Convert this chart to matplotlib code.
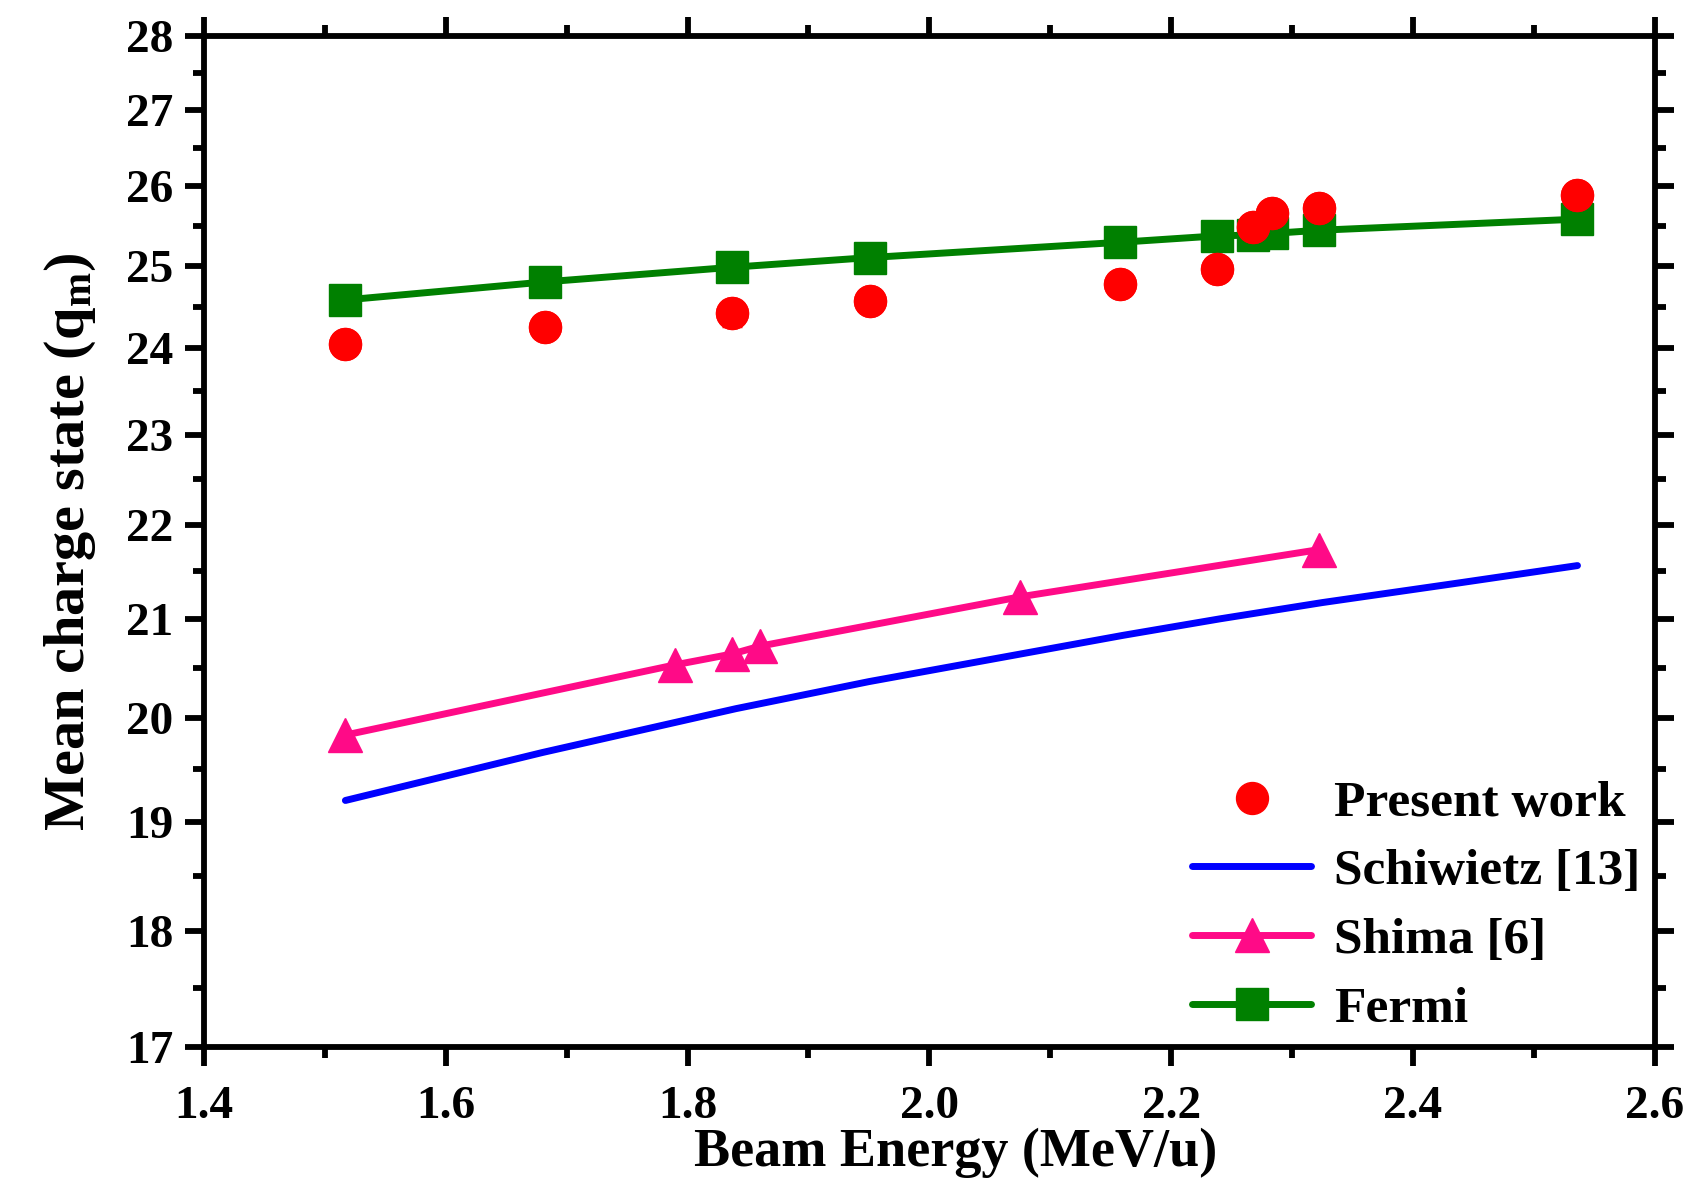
import matplotlib
matplotlib.use("Agg")
import matplotlib.pyplot as plt
from matplotlib.ticker import FixedLocator, FuncFormatter, NullFormatter, MultipleLocator

plt.rcParams['font.family'] = ['Liberation Serif', 'DejaVu Serif']
plt.rcParams['font.weight'] = 'bold'
plt.rcParams['mathtext.fontset'] = 'custom'
plt.rcParams['mathtext.rm'] = 'Liberation Serif:bold'
plt.rcParams['mathtext.it'] = 'Liberation Serif:bold'
plt.rcParams['mathtext.bf'] = 'Liberation Serif:bold'

# Present work (experimental)
pw_energy = [1.517, 1.682, 1.837, 1.951, 2.158, 2.238, 2.268, 2.283, 2.322, 2.536]
pw_q = [24.05, 24.25, 24.42, 24.57, 24.77, 24.96, 25.48, 25.66, 25.72, 25.89]
pw_err = [0.10, 0.08, 0.15, 0.08, 0.07, 0.07, 0.08, 0.08, 0.08, 0.12]

# Schiwietz [13]
sch_energy = [1.517, 1.68, 1.84, 1.95, 2.16, 2.24, 2.325, 2.44, 2.536]
sch_q = [19.20, 19.66, 20.09, 20.36, 20.83, 21.00, 21.17, 21.38, 21.56]

# Shima [6]
shi_energy = [1.517, 1.790, 1.837, 1.860, 2.075, 2.322]
shi_q = [19.83, 20.53, 20.64, 20.72, 21.23, 21.73]

# Fermi
fer_energy = [1.517, 1.682, 1.837, 1.951, 2.158, 2.238, 2.268, 2.283, 2.322, 2.536]
fer_q = [24.58, 24.80, 24.98, 25.10, 25.29, 25.37, 25.38, 25.40, 25.44, 25.58]

y_ticks = list(range(17, 29))
x_ticks = [1.4, 1.6, 1.8, 2.0, 2.2, 2.4, 2.6]

fig = plt.figure(figsize=(17.05, 11.92), dpi=100)
ax = fig.add_axes([0.1196, 0.1216, 0.8510, 0.8482])

ax.errorbar(pw_energy, pw_q, yerr=pw_err, fmt='o', color='#FF0000', ms=23,
            capsize=7, elinewidth=2.5, capthick=2.5, zorder=4, label='_nolegend_')
h_pw, = ax.plot(pw_energy, pw_q, 'o', color='#FF0000', ms=23, zorder=5, label='Present work')
h_sch, = ax.plot(sch_energy, sch_q, '-', color='#0000FF', lw=5, label='Schiwietz [13]',
                 solid_capstyle='round')
h_shi, = ax.plot(shi_energy, shi_q, '-^', color='#FF0A87', lw=5, ms=25,
                 label='Shima [6]', solid_capstyle='round')
h_fer, = ax.plot(fer_energy, fer_q, '-s', color='#008000', lw=5, ms=23,
                 label='Fermi', solid_capstyle='round', zorder=3)

ax.set_yscale('log')
ax.set_xlim(1.4, 2.6)
ax.set_ylim(17, 28)
ax.yaxis.set_major_locator(FixedLocator(y_ticks))
ax.yaxis.set_minor_locator(FixedLocator([v + 0.5 for v in y_ticks[:-1]]))
ax.yaxis.set_major_formatter(FuncFormatter(lambda v, p: f"{v:.0f}"))
ax.yaxis.set_minor_formatter(NullFormatter())
ax.xaxis.set_major_locator(FixedLocator(x_ticks))
ax.xaxis.set_minor_locator(MultipleLocator(0.1))
ax.xaxis.set_major_formatter(FuncFormatter(lambda v, p: f"{v:.1f}"))

for s in ax.spines.values():
    s.set_linewidth(4.2)
ax.tick_params(which='both', direction='out', top=True, right=True,
               labeltop=False, labelright=False, width=4.2)
ax.tick_params(which='major', length=14, labelsize=34, pad=8)
ax.tick_params(axis='x', which='major', pad=14)
ax.tick_params(which='minor', length=8)
for lab in ax.get_xticklabels() + ax.get_yticklabels():
    lab.set_fontweight('bold')

ax.set_xlabel('Beam Energy (MeV/u)', fontsize=39, fontweight='bold', labelpad=2)
ax.xaxis.set_label_coords(0.518, -0.08)
ax.set_ylabel(r'Mean charge state (q$_{\mathregular{m}}$)', fontsize=42,
              fontweight='bold', labelpad=20)

leg = ax.legend(handles=[h_pw, h_sch, h_shi, h_fer], loc='lower right',
                bbox_to_anchor=(1.004, -0.006), frameon=False,
                handlelength=2.3, handletextpad=0.45, labelspacing=0.42,
                borderaxespad=0.0, prop={'weight': 'bold', 'size': 37})

fig.savefig('out.png', dpi=100)
